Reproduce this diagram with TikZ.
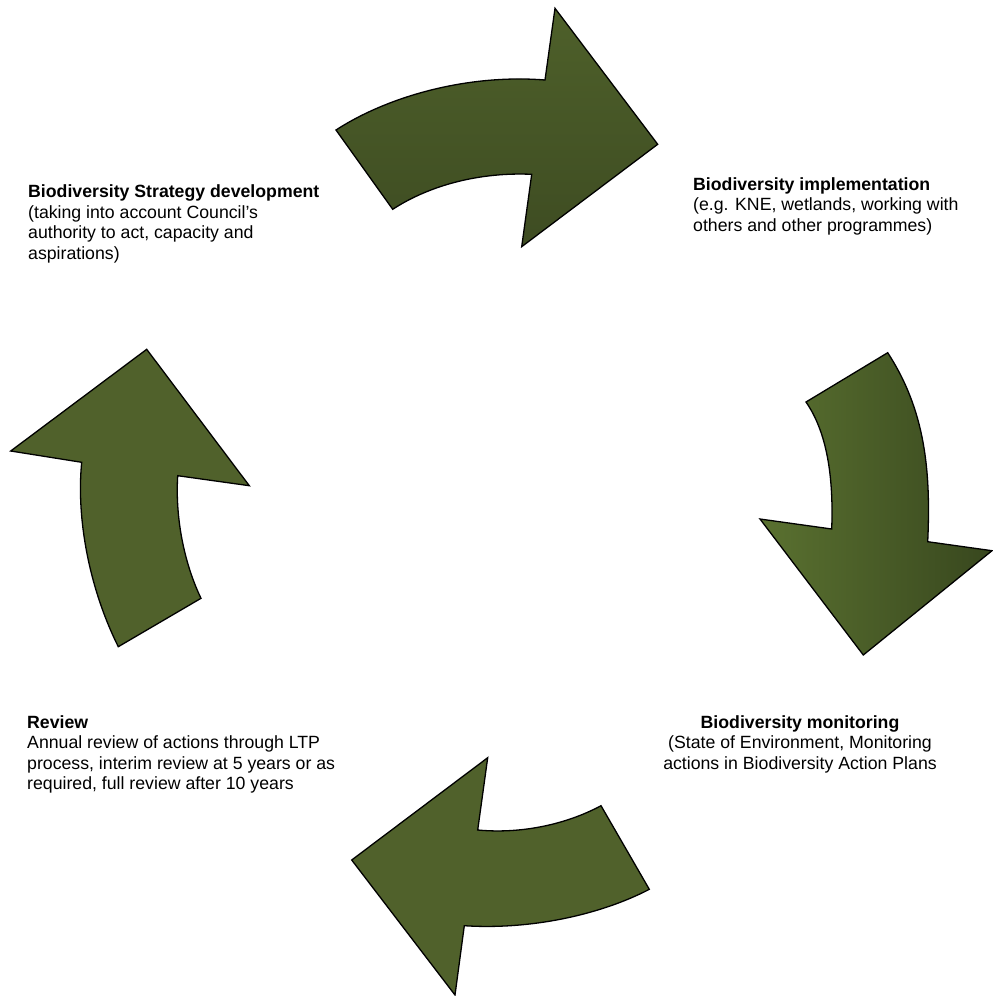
\documentclass[tikz,border=0pt]{standalone}
\usepackage{fontspec}
\setmainfont{Liberation Sans}
\definecolor{gA}{RGB}{80,97,43}
\definecolor{gTop}{RGB}{78,96,42}
\definecolor{gBot}{RGB}{62,76,34}
\definecolor{gL}{RGB}{90,113,48}
\definecolor{gR}{RGB}{56,71,30}
\tikzset{
  arrowshape/.style={draw=black, line width=1.3pt, line join=miter},
  lbl/.style={font=\fontsize{17.7}{20.6}\selectfont, align=left, inner sep=0pt, anchor=base west},
  lblc/.style={font=\fontsize{17.7}{20.6}\selectfont, align=center, inner sep=0pt, anchor=base},
}
\begin{document}
\begin{tikzpicture}[x=1pt,y=-1pt]
\path[use as bounding box] (0,0) rectangle (993,996);
% top arrow
\path[arrowshape, top color=gTop, bottom color=gBot]
  (336,130) -- (392.7,209.3) .. controls (430,185) and (480,172) .. (531.7,174.3)
  -- (521.7,246.7) -- (657.7,144.3) -- (555,8.3) -- (545,80)
  .. controls (470,74) and (390,95) .. (336,130) -- cycle;
% right arrow
\path[arrowshape, left color=gL, right color=gR]
  (887.7,352.7) -- (806,402) .. controls (824,428) and (834,468) .. (831.7,529)
  -- (760,519) -- (863.3,655) -- (992,550.7) -- (927.7,541.7)
  .. controls (931,470) and (925,410) .. (887.7,352.7) -- cycle;
% bottom arrow
\path[arrowshape, fill=gA]
  (601,805.7) -- (649.3,889.3) .. controls (600,915) and (530,930) .. (464.3,925.7)
  -- (455,995) -- (351.7,860) -- (487.7,757.7) -- (477.7,830)
  .. controls (520,834) and (565,825) .. (601,805.7) -- cycle;
% left arrow
\path[arrowshape, fill=gA]
  (118.3,646.7) -- (201,598.3) .. controls (185,565) and (175,520) .. (177.7,475.7)
  -- (249.3,485.7) -- (146.7,349.3) -- (10.7,451) -- (81.7,462.3)
  .. controls (76,520) and (90,590) .. (118.3,646.7) -- cycle;
% labels (anchored at the baseline of the last line)
\node[lbl] (strategy) at (28,259.5) {\textbf{Biodiversity Strategy development}\\(taking into account Council’s\\authority to act, capacity and\\aspirations)};
\node[lbl] (impl) at (693,231.2) {\textbf{Biodiversity implementation}\\(e.g. KNE, wetlands, working with\\others and other programmes)};
\node[lblc] (monit) at (800,769.2) {\textbf{Biodiversity monitoring}\\(State of Environment, Monitoring\\actions in Biodiversity Action Plans};
\node[lbl] (review) at (27,789.8) {\textbf{Review}\\Annual review of actions through LTP\\process, interim review at 5 years or as\\required, full review after 10 years};
\end{tikzpicture}
\end{document}
